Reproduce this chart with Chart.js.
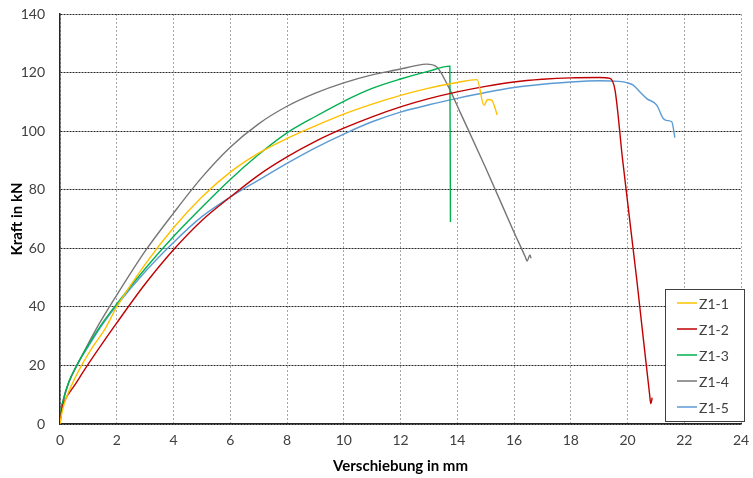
<!DOCTYPE html>
<html>
<head>
<meta charset="utf-8">
<script src="https://cdn.jsdelivr.net/npm/chart.js@4"></script>
<style>
  html, body { margin: 0; padding: 0; background: #fff; }
  #wrap { width: 753px; height: 478px; }
</style>
</head>
<body>
<div id="wrap"><canvas id="kraftChart" width="753" height="478"></canvas></div>
<script>
const seriesNames = ['Z1-1', 'Z1-2', 'Z1-3', 'Z1-4', 'Z1-5'];
const seriesColors = ['#FFC000', '#C00000', '#00B050', '#767676', '#5B9BD5'];

const z1_1 = [[0,0],[0.05,3],[0.15,7],[0.35,12],[0.76,20],[1.2,27],[1.59,32.5],[2,40],[3,54.5],[4,67],[5,77.5],[6,86],[7,92.5],[8,97.5],[9,101.8],[10,105.8],[11,109.2],[12,112.2],[13,114.7],[14,116.6],[14.7,117.6],[14.94,108.8],[15.07,110.8],[15.21,110.6],[15.41,105.5]];
const z1_2 = [[0,0],[0.06,4.8],[0.18,8.2],[0.5,13],[1,20.5],[2,34.5],[3,47.8],[4,59.5],[5,69.5],[6,77.5],[7,85],[8,91.2],[9,96.5],[10,101],[11,104.9],[12,108.3],[13,111.1],[14,113.4],[15,115.3],[16,116.8],[17,117.7],[18,118.2],[19,118.3],[19.38,118],[19.56,114],[19.83,90],[20.33,49],[20.78,10],[20.82,7],[20.87,9]];
const z1_3 = [[0,0],[0.03,4],[0.12,8.2],[0.3,14],[0.59,20],[1,27],[1.5,34.5],[2,41],[3,53],[4,64],[5,74],[6,83.5],[7,92],[8,99.4],[9,105],[10,110.2],[11,114.6],[12,117.8],[13,120.5],[13.74,122.2],[13.76,69]];
const z1_4 = [[0,0],[0.03,4],[0.12,8.5],[0.3,14],[0.6,20],[1.25,32],[2,44],[3,59],[4,72],[5,84.2],[6,94.5],[7,102.5],[8,108.5],[9,113],[10,116.5],[11,119.2],[12,121.2],[12.5,122.3],[12.92,122.9],[13.27,122],[13.63,116.3],[14.1,106.5],[15,87.5],[16,65.5],[16.4,57],[16.46,55.6],[16.56,57.7],[16.6,56.6]];
const z1_5 = [[0,0],[0.03,4],[0.12,8.2],[0.3,14],[0.59,20],[1,26.5],[1.5,34],[2,40.5],[3,52],[4,62],[5,70.8],[6,77.5],[7,83.3],[8,89],[9,94.3],[10,99],[11,103.2],[12,106.5],[13,109],[14,111.2],[15,113.2],[16,114.9],[17,116],[18,116.8],[19,117.2],[19.7,117],[20,116.5],[20.2,115.7],[20.44,113.4],[20.68,111.1],[21.03,108.9],[21.26,104.3],[21.4,103.6],[21.56,103.2],[21.67,97.8]];
const allSeries = [z1_1, z1_2, z1_3, z1_4, z1_5];

const xTicks = [0, 2, 4, 6, 8, 10, 12, 14, 16, 18, 20, 22, 24];
const yTicks = [0, 20, 40, 60, 80, 100, 120, 140];

const FONT = 'Lato, Carlito, Calibri, sans-serif';

// Legende als Kasten unten rechts
const boxLegend = {
    id: 'boxLegend',
    afterDraw(chart) {
        const ctx = chart.ctx;
        const x = 665, y = 289, w = 79, h = 132;
        ctx.save();
        ctx.fillStyle = '#fff';
        ctx.fillRect(x, y, w, h);
        ctx.strokeStyle = '#404040';
        ctx.lineWidth = 1;
        ctx.strokeRect(x + 0.5, y + 0.5, w, h);
        ctx.font = '14px ' + FONT;
        ctx.textBaseline = 'middle';
        chart.data.datasets.forEach((ds, i) => {
            const cy = y + 14 + i * 26;
            ctx.strokeStyle = ds.borderColor;
            ctx.lineWidth = 1.5;
            ctx.beginPath();
            ctx.moveTo(677, cy);
            ctx.lineTo(697, cy);
            ctx.stroke();
            ctx.fillStyle = '#404040';
            ctx.fillText(ds.label, 699, cy + 1);
        });
        ctx.restore();
    }
};

document.addEventListener('DOMContentLoaded', function() {
    const ctx = document.getElementById('kraftChart').getContext('2d');
    new Chart(ctx, {
        type: 'scatter',
        data: {
            datasets: seriesNames.map((name, i) => ({
                label: name,
                data: allSeries[i].map(p => ({ x: p[0], y: p[1] })),
                borderColor: seriesColors[i],
                backgroundColor: seriesColors[i],
                borderWidth: 1.4,
                showLine: true,
                pointRadius: 0,
                cubicInterpolationMode: 'monotone'
            }))
        },
        options: {
            responsive: false,
            animation: false,
            layout: { padding: { left: 0, right: 12, top: 14, bottom: 0 } },
            plugins: {
                legend: { display: false },
                tooltip: { enabled: false }
            },
            scales: {
                x: {
                    type: 'linear',
                    min: 0,
                    max: 24,
                    afterBuildTicks: s => { s.ticks = xTicks.map(v => ({ value: v })); },
                    afterFit: s => {
                        s.height = 54;
                        s.paddingLeft = 0;
                        s.paddingRight = 0;
                    },
                    grid: { color: '#a6a6a6', lineWidth: 1, drawTicks: false },
                    border: { display: true, color: '#262626', width: 1.5, dash: [2, 2] },
                    ticks: { color: '#404040', font: { family: FONT, size: 14 }, padding: 8, maxRotation: 0 },
                    title: {
                        display: true,
                        text: 'Verschiebung in mm',
                        color: '#000',
                        font: { family: FONT, size: 15, weight: 'bold' },
                        padding: { top: 0, bottom: 3 }
                    }
                },
                y: {
                    type: 'linear',
                    min: 0,
                    max: 140,
                    afterBuildTicks: s => { s.ticks = yTicks.map(v => ({ value: v })); },
                    afterFit: s => {
                        s.width = 60;
                        s.paddingTop = 0;
                        s.paddingBottom = 0;
                    },
                    grid: { color: '#262626', lineWidth: 1, drawTicks: false },
                    border: { display: true, color: '#262626', width: 1.5, dash: [2, 1] },
                    ticks: { color: '#404040', font: { family: FONT, size: 14 }, padding: 15 },
                    title: {
                        display: true,
                        text: 'Kraft in kN',
                        color: '#000',
                        font: { family: FONT, size: 15, weight: 'bold' },
                        padding: { top: 8, bottom: 0 }
                    }
                }
            }
        },
        plugins: [boxLegend]
    });
});
</script>
</body>
</html>
